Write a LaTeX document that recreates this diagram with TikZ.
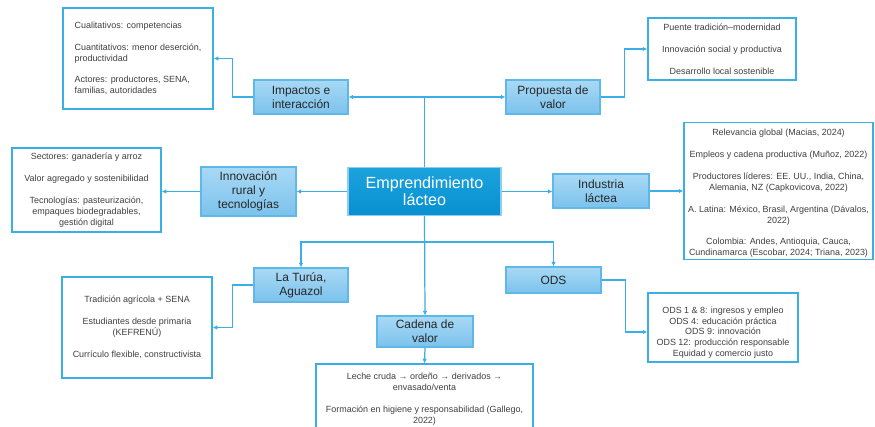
\documentclass[tikz,border=0pt]{standalone}
\usepackage{fontspec}
\setmainfont{Liberation Sans}
\usetikzlibrary{arrows.meta}
\definecolor{linkblue}{HTML}{3AAFE5}
\definecolor{catedge}{HTML}{5FB8E8}
\definecolor{cattop}{HTML}{A8D9F5}
\definecolor{catbot}{HTML}{7CC2EC}
\definecolor{maintop}{HTML}{1CA3DD}
\definecolor{mainbot}{HTML}{078FD0}
\definecolor{infotext}{HTML}{404040}
\tikzset{
  cat/.style={draw=catedge, line width=0.6pt, top color=cattop, bottom color=catbot,
    align=center, text=black!85, inner sep=1pt, font=\fontsize{6.8}{8}\selectfont},
  hub/.style={draw=catedge!70, line width=0.6pt, top color=maintop, bottom color=mainbot,
    align=center, text=white, inner sep=1pt, font=\fontsize{9.2}{9.6}\selectfont},
  info/.style={draw=linkblue, line width=0.8pt, fill=white, text=infotext,
    inner sep=1pt, font=\fontsize{5.1}{6.2}\selectfont},
  link/.style={draw=linkblue, line width=0.7pt},
  arr/.style={link, -{Latex[length=2.6pt,width=2.6pt]}}
}
\begin{document}
\begin{tikzpicture}[x=0.02cm, y=-0.02cm]
\clip (0,0) rectangle (875,426);
\fill[white] (0,0) rectangle (875,426);
\node[hub, minimum width=3.06cm, minimum height=0.96cm] (main) at (424.5,191.5) {Emprendimiento\\l\'acteo};
\node[cat, minimum width=1.88cm, minimum height=0.68cm] (imp) at (301,97) {Impactos e\\interacci\'on};
\node[cat, minimum width=1.88cm, minimum height=0.68cm] (prop) at (553,97) {Propuesta de\\valor};
\node[cat, minimum width=1.9cm, minimum height=0.98cm] (innov) at (248.5,191.5) {Innovaci\'on\\rural y\\tecnolog\'ias};
\node[cat, minimum width=1.92cm, minimum height=0.68cm] (ind) at (601,191) {Industria\\l\'actea};
\node[cat, minimum width=1.88cm, minimum height=0.68cm] (turua) at (301,285) {La Tur\'ua,\\Aguazol};
\node[cat, minimum width=1.9cm, minimum height=0.52cm] (ods) at (553.5,280) {ODS};
\node[cat, minimum width=1.92cm, minimum height=0.62cm] (cadena) at (425,331.5) {Cadena de\\valor};
\node[info, align=left, minimum width=3cm, minimum height=2.02cm] (impD) at (138,58.5)
  {Cualitativos: competencias\\[6.2pt]Cuantitativos: menor deserci\'on,\\productividad\\[6.2pt]Actores: productores, SENA,\\familias, autoridades};
\node[info, align=center, minimum width=2.96cm, minimum height=1.24cm] (propD) at (722,49)
  {Puente tradici\'on–modernidad\\[6.2pt]Innovaci\'on social y productiva\\[6.2pt]Desarrollo local sostenible};
\node[info, align=center, minimum width=2.98cm, minimum height=1.68cm] (innovD) at (86.5,190)
  {Sectores: ganader\'ia y arroz\\[6.2pt]Valor agregado y sostenibilidad\\[6.2pt]Tecnolog\'ias: pasteurizaci\'on,\\empaques biodegradables,\\gesti\'on digital};
\node[info, align=center, minimum width=3.78cm, minimum height=2.72cm] (indD) at (778.5,191)
  {\rule{0pt}{6.5pt}Relevancia global (Macias, 2024)\\[6.2pt]Empleos y cadena productiva (Mu\~noz, 2022)\\[6.2pt]Productores l\'ideres: EE. UU., India, China,\\Alemania, NZ (Capkovicova, 2022)\\[6.2pt]A. Latina: M\'exico, Brasil, Argentina (D\'avalos,\\2022)\\[6.2pt]Colombia: Andes, Antioquia, Cauca,\\Cundinamarca (Escobar, 2024; Triana, 2023)};
\node[info, align=center, minimum width=3cm, minimum height=2.02cm] (turuaD) at (137,327.5)
  {Tradici\'on agr\'icola + SENA\\[6.2pt]Estudiantes desde primaria\\(KEFREN\'U)\\[6.2pt]Curr\'iculo flexible, constructivista};
\node[info, align=center, minimum width=3cm, minimum height=1.38cm] (odsD) at (723,327.5)
  {\rule{0pt}{9.5pt}ODS 1 \& 8: ingresos y empleo\\ODS 4: educaci\'on pr\'actica\\ODS 9: innovaci\'on\\ODS 12: producci\'on responsable\\Equidad y comercio justo};
\node[info, align=center, minimum width=4.34cm, minimum height=1.4cm] (cadD) at (424.5,399)
  {Leche cruda → orde\~no → derivados →\\envasado/venta\\[6.2pt]Formaci\'on en higiene y responsabilidad (Gallego,\\2022)};
\coordinate (topj) at (424.5,97);
\coordinate (botj) at (424.5,242);
\draw[link] (main.north) -- (topj);
\draw[arr] (topj) -- (imp.east);
\draw[arr] (topj) -- (prop.west);
\draw[arr] (imp.west) -- ++(-21,0) |- (impD.east);
\draw[arr] (prop.east) -- ++(24,0) |- (propD.west);
\draw[arr] (main.west) -- (innov.east);
\draw[arr] (innov.west) -- (innovD.east |- innov.west);
\draw[arr] (main.east) -- (ind.west |- main.east);
\draw[arr] (ind.east) -- (indD.west |- ind.east);
\draw[arr] (main.south) -- (cadena.north);
\draw[arr] (botj) -| (turua.north);
\draw[arr] (botj) -| (ods.north);
\draw[arr] (turua.west) -- ++(-21,0) |- (turuaD.east);
\draw[arr] (ods.east) -- ++(24,0) |- ([yshift=-0.09cm]odsD.west);
\draw[arr] (cadena.south) -- (cadD.north);
\end{tikzpicture}
\end{document}
